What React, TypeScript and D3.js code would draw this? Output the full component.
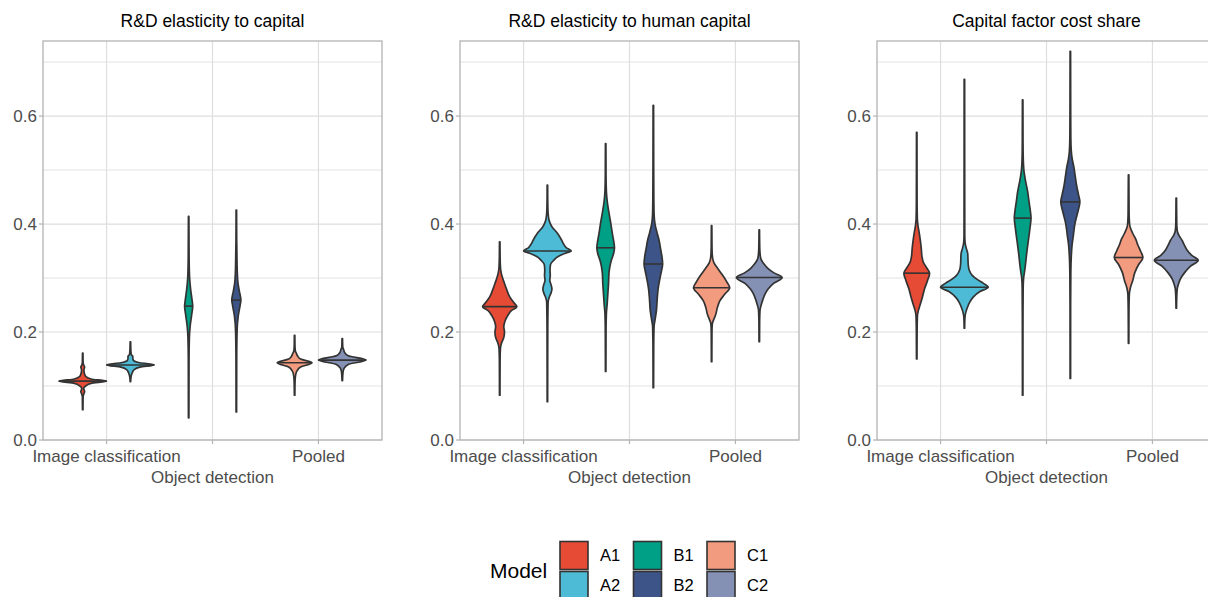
import React from "react";
import * as d3 from "d3";

// chart text
const panelTitles = [
  "R&D elasticity to capital",
  "R&D elasticity to human capital",
  "Capital factor cost share",
];
const categories = ["Image classification", "Object detection", "Pooled"];
const models = ["A1", "A2", "B1", "B2", "C1", "C2"];
const modelColors = ["#E64B35", "#4DBBD5", "#00A087", "#3C5488", "#F39B7F", "#8491B4"];
const yTicks = [0, 0.2, 0.4, 0.6];
const yMinor = [0.1, 0.3, 0.5, 0.7];

// medians, one per model, per panel
const capitalMedians = [0.109, 0.139, 0.248, 0.259, 0.143, 0.148];
const humanMedians = [0.247, 0.35, 0.356, 0.326, 0.282, 0.301];
const shareMedians = [0.309, 0.283, 0.411, 0.441, 0.338, 0.333];

// violin outlines: [value, relative half width]
const capitalProfiles = [
  [[0.056, 0.01], [0.08, 0.015], [0.086, 0.05], [0.09, 0.08], [0.095, 0.04], [0.1, 0.12], [0.105, 0.35], [0.109, 1.0], [0.113, 0.35], [0.118, 0.12], [0.125, 0.06], [0.13, 0.05], [0.135, 0.08], [0.14, 0.03], [0.145, 0.015], [0.161, 0.01]],
  [[0.108, 0.01], [0.118, 0.03], [0.125, 0.08], [0.13, 0.15], [0.135, 0.4], [0.139, 1.0], [0.143, 0.4], [0.148, 0.12], [0.152, 0.1], [0.155, 0.1], [0.158, 0.04], [0.165, 0.02], [0.182, 0.01]],
  [[0.041, 0.01], [0.15, 0.015], [0.19, 0.03], [0.21, 0.06], [0.23, 0.12], [0.248, 0.17], [0.26, 0.14], [0.28, 0.08], [0.3, 0.04], [0.33, 0.02], [0.36, 0.015], [0.414, 0.01]],
  [[0.052, 0.01], [0.15, 0.015], [0.2, 0.03], [0.23, 0.08], [0.25, 0.16], [0.259, 0.19], [0.275, 0.13], [0.29, 0.07], [0.31, 0.04], [0.34, 0.025], [0.37, 0.015], [0.426, 0.01]],
  [[0.083, 0.01], [0.11, 0.02], [0.122, 0.05], [0.128, 0.1], [0.135, 0.25], [0.143, 0.73], [0.15, 0.25], [0.156, 0.12], [0.16, 0.08], [0.165, 0.03], [0.175, 0.015], [0.194, 0.01]],
  [[0.11, 0.01], [0.125, 0.03], [0.133, 0.08], [0.14, 0.25], [0.148, 1.0], [0.156, 0.25], [0.162, 0.1], [0.167, 0.06], [0.172, 0.02], [0.188, 0.01]],
];
const humanProfiles = [
  [[0.083, 0.01], [0.15, 0.015], [0.17, 0.03], [0.18, 0.08], [0.19, 0.17], [0.2, 0.2], [0.21, 0.17], [0.22, 0.22], [0.23, 0.33], [0.24, 0.5], [0.247, 0.72], [0.255, 0.58], [0.265, 0.42], [0.28, 0.28], [0.29, 0.2], [0.3, 0.12], [0.31, 0.06], [0.32, 0.03], [0.34, 0.015], [0.367, 0.01]],
  [[0.071, 0.01], [0.2, 0.015], [0.255, 0.03], [0.265, 0.08], [0.272, 0.15], [0.28, 0.19], [0.288, 0.15], [0.296, 0.1], [0.305, 0.12], [0.315, 0.11], [0.325, 0.13], [0.332, 0.25], [0.34, 0.45], [0.346, 0.75], [0.35, 1.0], [0.356, 0.8], [0.363, 0.68], [0.37, 0.6], [0.383, 0.42], [0.395, 0.19], [0.407, 0.07], [0.42, 0.03], [0.44, 0.015], [0.472, 0.01]],
  [[0.127, 0.01], [0.2, 0.015], [0.235, 0.03], [0.25, 0.06], [0.27, 0.09], [0.29, 0.12], [0.31, 0.14], [0.33, 0.22], [0.345, 0.33], [0.356, 0.37], [0.37, 0.33], [0.385, 0.27], [0.4, 0.22], [0.42, 0.14], [0.44, 0.07], [0.46, 0.03], [0.49, 0.015], [0.549, 0.01]],
  [[0.097, 0.01], [0.17, 0.015], [0.21, 0.03], [0.225, 0.08], [0.24, 0.13], [0.26, 0.16], [0.28, 0.2], [0.3, 0.28], [0.315, 0.35], [0.326, 0.39], [0.34, 0.36], [0.355, 0.3], [0.37, 0.24], [0.385, 0.15], [0.4, 0.07], [0.42, 0.03], [0.45, 0.02], [0.5, 0.015], [0.62, 0.01]],
  [[0.145, 0.01], [0.2, 0.015], [0.215, 0.03], [0.222, 0.08], [0.232, 0.17], [0.245, 0.24], [0.258, 0.35], [0.27, 0.55], [0.282, 0.76], [0.292, 0.65], [0.306, 0.45], [0.318, 0.25], [0.328, 0.1], [0.335, 0.05], [0.345, 0.025], [0.36, 0.015], [0.397, 0.01]],
  [[0.182, 0.01], [0.22, 0.015], [0.24, 0.03], [0.25, 0.08], [0.26, 0.15], [0.27, 0.24], [0.28, 0.38], [0.29, 0.6], [0.301, 0.96], [0.31, 0.6], [0.318, 0.36], [0.326, 0.2], [0.334, 0.08], [0.342, 0.04], [0.355, 0.02], [0.389, 0.01]],
];
const shareProfiles = [
  [[0.15, 0.01], [0.2, 0.015], [0.23, 0.03], [0.24, 0.07], [0.25, 0.14], [0.265, 0.24], [0.28, 0.33], [0.295, 0.45], [0.309, 0.54], [0.32, 0.4], [0.33, 0.27], [0.34, 0.22], [0.355, 0.19], [0.37, 0.15], [0.385, 0.1], [0.398, 0.05], [0.41, 0.025], [0.44, 0.015], [0.57, 0.01]],
  [[0.207, 0.01], [0.225, 0.02], [0.235, 0.05], [0.245, 0.12], [0.255, 0.22], [0.265, 0.38], [0.275, 0.65], [0.283, 1.0], [0.29, 0.8], [0.297, 0.55], [0.305, 0.33], [0.315, 0.2], [0.325, 0.16], [0.335, 0.15], [0.345, 0.14], [0.355, 0.08], [0.365, 0.03], [0.38, 0.015], [0.668, 0.01]],
  [[0.083, 0.01], [0.2, 0.012], [0.28, 0.02], [0.3, 0.04], [0.315, 0.09], [0.33, 0.13], [0.35, 0.18], [0.37, 0.24], [0.39, 0.3], [0.411, 0.35], [0.425, 0.32], [0.44, 0.27], [0.46, 0.21], [0.48, 0.12], [0.5, 0.05], [0.52, 0.025], [0.55, 0.015], [0.63, 0.01]],
  [[0.114, 0.01], [0.25, 0.012], [0.31, 0.02], [0.34, 0.04], [0.36, 0.07], [0.38, 0.13], [0.4, 0.19], [0.42, 0.3], [0.441, 0.4], [0.455, 0.34], [0.472, 0.26], [0.49, 0.2], [0.505, 0.15], [0.52, 0.08], [0.535, 0.04], [0.56, 0.02], [0.6, 0.015], [0.72, 0.01]],
  [[0.179, 0.01], [0.24, 0.015], [0.27, 0.03], [0.283, 0.08], [0.295, 0.17], [0.31, 0.26], [0.325, 0.42], [0.338, 0.6], [0.35, 0.5], [0.362, 0.38], [0.372, 0.3], [0.382, 0.18], [0.392, 0.08], [0.4, 0.04], [0.42, 0.02], [0.491, 0.01]],
  [[0.244, 0.01], [0.265, 0.02], [0.28, 0.04], [0.29, 0.1], [0.298, 0.17], [0.31, 0.35], [0.322, 0.6], [0.333, 0.92], [0.342, 0.65], [0.352, 0.45], [0.362, 0.33], [0.37, 0.24], [0.38, 0.1], [0.388, 0.04], [0.4, 0.02], [0.448, 0.01]],
];

const panelProfiles = [capitalProfiles, humanProfiles, shareProfiles];
const panelMedians = [capitalMedians, humanMedians, shareMedians];

const W = 1208;
const H = 597;
const FONT = "'Liberation Sans', Arial, sans-serif";
const panelLefts = [43, 460, 877];
const panelW = 339;
const top = 41;
const bottom = 440;
const OUTLINE = "#333333";

function Panel({ idx }: { idx: number }) {
  const left = panelLefts[idx];
  const x = d3.scaleLinear().domain([0.4, 3.6]).range([left, left + panelW]);
  const y = d3.scaleLinear().domain([0, 0.739]).range([bottom, top]);
  const dodge = 0.225;
  const halfMax = x(dodge) - x(0);
  const profiles = panelProfiles[idx];
  const medians = panelMedians[idx];

  return (
    <g>
      <text x={left + panelW / 2} y={26.5} textAnchor="middle" fontSize={17.5} fill="#000" fontFamily={FONT}>
        {panelTitles[idx]}
      </text>
      <defs>
        <clipPath id={"clip" + idx}>
          <rect x={left} y={top} width={panelW} height={bottom - top} />
        </clipPath>
      </defs>
      {yMinor.map((t) => (
        <line key={"mn" + t} x1={left} x2={left + panelW} y1={y(t)} y2={y(t)} stroke="#E3E3E3" strokeWidth={1} />
      ))}
      {yTicks.map((t) => (
        <line key={"mj" + t} x1={left} x2={left + panelW} y1={y(t)} y2={y(t)} stroke="#DEDEDE" strokeWidth={1.2} />
      ))}
      {categories.map((c, i) => (
        <line key={"vx" + c} x1={x(i + 1)} x2={x(i + 1)} y1={top} y2={bottom} stroke="#DEDEDE" strokeWidth={1.2} />
      ))}
      <g clipPath={`url(#clip${idx})`}>
        {models.map((m, k) => {
          const cat = Math.floor(k / 2);
          const cx = x(cat + 1 + (k % 2 === 0 ? -dodge : dodge));
          const prof = profiles[k];
          const area = d3
            .area<number[]>()
            .y((d) => y(d[0]))
            .x0((d) => cx - d[1] * halfMax)
            .x1((d) => cx + d[1] * halfMax)
            .curve(d3.curveMonotoneY);
          const wAt = d3.scaleLinear().domain(prof.map((d) => d[0])).range(prof.map((d) => d[1]));
          const med = medians[k];
          const mw = wAt(med) * halfMax;
          return (
            <g key={m}>
              <path d={area(prof) || ""} fill={modelColors[k]} stroke={OUTLINE} strokeWidth={1.7} strokeLinejoin="round" />
              <line x1={cx - mw} x2={cx + mw} y1={y(med)} y2={y(med)} stroke={OUTLINE} strokeWidth={1.6} />
            </g>
          );
        })}
      </g>
      <rect x={left} y={top} width={panelW} height={bottom - top} fill="none" stroke="#B3B3B3" strokeWidth={1.3} />
      {yTicks.map((t) => (
        <g key={"yt" + t}>
          <line x1={left - 4} x2={left} y1={y(t)} y2={y(t)} stroke="#B3B3B3" strokeWidth={1.2} />
          <text x={left - 6} y={y(t)} dy="0.36em" textAnchor="end" fontSize={17} fill="#4D4D4D" fontFamily={FONT}>
            {t.toFixed(1)}
          </text>
        </g>
      ))}
      {categories.map((c, i) => (
        <g key={"xt" + c}>
          <line x1={x(i + 1)} x2={x(i + 1)} y1={bottom} y2={bottom + 4} stroke="#B3B3B3" strokeWidth={1.2} />
          <text x={x(i + 1)} y={i % 2 === 1 ? 483 : 462} textAnchor="middle" fontSize={17} fill="#4D4D4D" fontFamily={FONT}>
            {c}
          </text>
        </g>
      ))}
    </g>
  );
}

function Legend() {
  const keyX = d3.scaleLinear().domain([0, 1]).range([560, 633.5]);
  const keyY = d3.scaleLinear().domain([0, 1]).range([541.5, 571.5]);
  return (
    <g>
      <text x={490} y={578} fontSize={21} fill="#000" fontFamily={FONT}>
        Model
      </text>
      {models.map((m, k) => {
        const col = Math.floor(k / 2);
        const row = k % 2;
        return (
          <g key={"lg" + m}>
            <rect x={keyX(col)} y={keyY(row)} width={28} height={28} fill={modelColors[k]} stroke={OUTLINE} strokeWidth={1.6} />
            <text x={keyX(col) + 40} y={keyY(row) + 14} dy="0.36em" fontSize={16.5} fill="#000" fontFamily={FONT}>
              {m}
            </text>
          </g>
        );
      })}
    </g>
  );
}

export default function App() {
  return (
    <svg width={W} height={H} style={{ position: "absolute", left: 0, top: 0, background: "#fff" }}>
      <rect width={W} height={H} fill="#fff" />
      {panelTitles.map((t, i) => (
        <Panel key={t} idx={i} />
      ))}
      <Legend />
    </svg>
  );
}
